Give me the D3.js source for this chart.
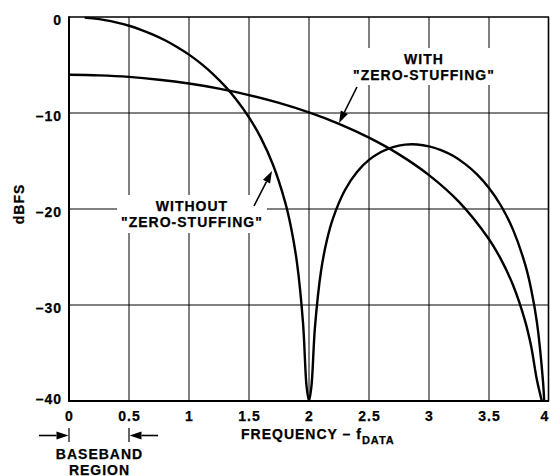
<!DOCTYPE html>
<html>
<head>
<meta charset="utf-8">
<script src="https://cdn.jsdelivr.net/npm/d3@7"></script>
<style>
  html, body { margin: 0; padding: 0; background: #fff; }
  svg { display: block; }
  text { font-family: "Liberation Sans", Arial, Helvetica, sans-serif; font-weight: bold; fill: #000; stroke: #000; stroke-width: 0.25px; }
</style>
</head>
<body>
<svg id="chart" width="550" height="476"></svg>
<script>
// ---- Data ----
const xTicks = [0, 0.5, 1, 1.5, 2, 2.5, 3, 3.5, 4];
const xTickLabels = ["0", "0.5", "1", "1.5", "2", "2.5", "3", "3.5", "4"];
const yTicks = [0, -10, -20, -30, -40];
const yTickLabels = ["0", "\u201310", "\u201320", "\u201330", "\u201340"];

// Response without zero-stuffing (dBFS vs frequency in f_DATA)
const withoutFreq = [0.13, 0.2, 0.3, 0.4, 0.5, 0.6, 0.7, 0.8, 0.9, 1.0, 1.1, 1.2, 1.3, 1.4, 1.5, 1.6, 1.7, 1.8, 1.85, 1.9, 1.95, 1.98, 2.0,
  2.02, 2.05, 2.1, 2.15, 2.2, 2.3, 2.4, 2.5, 2.6, 2.7, 2.8, 2.9, 3.0, 3.1, 3.2, 3.3, 3.4, 3.5, 3.6, 3.7, 3.8, 3.85, 3.9, 3.95, 3.96];
const withoutDb = [-0.06, -0.14, -0.32, -0.58, -0.91, -1.33, -1.83, -2.42, -3.12, -3.92, -4.86, -5.94, -7.2, -8.69, -10.45, -12.62, -15.39, -19.23, -21.9, -25.61, -31.83, -38.5, -40,
  -38.5, -32.26, -26.48, -23.21, -20.97, -18.02, -16.14, -14.89, -14.06, -13.55, -13.3, -13.28, -13.47, -13.86, -14.46, -15.3, -16.39, -17.81, -19.66, -22.15, -25.72, -28.27, -31.86, -37.96, -40];

// Response with zero-stuffing
const withFreq = [0, 0.25, 0.5, 0.75, 1.0, 1.25, 1.5, 1.75, 2.0, 2.25, 2.5, 2.75, 3.0, 3.25, 3.5, 3.6, 3.7, 3.8, 3.85, 3.9, 3.94];
const withDb = [-6.02, -6.08, -6.24, -6.53, -6.93, -7.46, -8.13, -8.95, -9.94, -11.13, -12.57, -14.31, -16.47, -19.26, -23.15, -25.25, -27.92, -31.63, -34.23, -37.85, -40];

// ---- Layout ----
const svg = d3.select("#chart");
const x = d3.scaleLinear().domain([0, 4]).range([69, 549]);
const y = d3.scaleLinear().domain([0, -40]).range([17, 401]);

// Grid
const g = svg.append("g");
g.selectAll("line.vg").data(xTicks.slice(1, -1)).enter().append("line")
  .attr("x1", d => x(d)).attr("x2", d => x(d))
  .attr("y1", y(0)).attr("y2", y(-40))
  .attr("stroke", "#000").attr("stroke-width", 1);
g.selectAll("line.hg").data(yTicks.slice(1, -1)).enter().append("line")
  .attr("x1", x(0)).attr("x2", x(4))
  .attr("y1", d => y(d)).attr("y2", d => y(d))
  .attr("stroke", "#000").attr("stroke-width", 1);

// Curves
const lineC = d3.line().x(d => x(d[0])).y(d => y(d[1])).curve(d3.curveCatmullRom.alpha(0.5));
const withoutPts = withoutFreq.map((f, i) => [f, withoutDb[i]]);
const withPts = withFreq.map((f, i) => [f, withDb[i]]);

svg.append("clipPath").attr("id", "clip").append("rect")
  .attr("x", x(0)).attr("y", y(0) - 2).attr("width", x(4) - x(0)).attr("height", y(-40) - y(0) + 2);

const curves = svg.append("g").attr("clip-path", "url(#clip)");
curves.append("path").attr("d", lineC(withoutPts))
  .attr("fill", "none").attr("stroke", "#000").attr("stroke-width", 2.4)
  .attr("stroke-linejoin", "miter").attr("stroke-miterlimit", 20);
curves.append("path").attr("d", lineC(withPts))
  .attr("fill", "none").attr("stroke", "#000").attr("stroke-width", 2.4);

// Label backgrounds (break the grid behind annotation text)
svg.append("rect").attr("x", 117).attr("y", 195).attr("width", 150).attr("height", 38).attr("fill", "#fff");
svg.append("rect").attr("x", 348).attr("y", 48).attr("width", 152).attr("height", 37).attr("fill", "#fff");

// Frame
svg.append("line").attr("x1", x(0)).attr("x2", x(4)).attr("y1", y(0)).attr("y2", y(0)).attr("stroke", "#000").attr("stroke-width", 1.6);
svg.append("line").attr("x1", x(4) - 0.5).attr("x2", x(4) - 0.5).attr("y1", y(0)).attr("y2", y(-40)).attr("stroke", "#000").attr("stroke-width", 1.6);
svg.append("line").attr("x1", x(0)).attr("x2", x(0)).attr("y1", y(0) - 0.8).attr("y2", y(-40) + 1).attr("stroke", "#000").attr("stroke-width", 2);
svg.append("line").attr("x1", x(0) - 1).attr("x2", x(4)).attr("y1", y(-40)).attr("y2", y(-40)).attr("stroke", "#000").attr("stroke-width", 2);

// Axis labels
const ls = "1px";
svg.selectAll("text.yt").data(yTicks).enter().append("text")
  .attr("x", 62).attr("y", d => d === -40 ? y(d) + 3 : y(d) + 8)
  .attr("text-anchor", "end").attr("font-size", 14).attr("letter-spacing", ls)
  .text((d, i) => yTickLabels[i]);

svg.selectAll("text.xt").data(xTicks).enter().append("text")
  .attr("x", d => d === 4 ? x(d) - 4 : x(d) + 0.5).attr("y", 421)
  .attr("text-anchor", "middle").attr("font-size", 14).attr("letter-spacing", ls)
  .text((d, i) => xTickLabels[i]);

// dBFS
svg.append("text").attr("transform", "translate(24,204) rotate(-90)")
  .attr("text-anchor", "middle").attr("font-size", 14).attr("letter-spacing", ls).text("dBFS");

// Frequency label
const ft = svg.append("text").attr("x", 241).attr("y", 439).attr("font-size", 14).attr("letter-spacing", ls);
ft.append("tspan").text("FREQUENCY \u2013 f");
ft.append("tspan").attr("font-size", 11).attr("dy", 5).text("DATA");

// Annotations
function label(lines, cx, y0, dy) {
  lines.forEach((t, i) => svg.append("text").attr("x", cx).attr("y", y0 + i * dy)
    .attr("text-anchor", "middle").attr("font-size", 14).attr("letter-spacing", ls).text(t));
}
label(["WITH", "\"ZERO-STUFFING\""], 424, 64, 16);
label(["WITHOUT", "\"ZERO-STUFFING\""], 192, 211, 16);

// Arrows
function arrow(x1, y1, x2, y2, len, hw) {
  const a = Math.atan2(y2 - y1, x2 - x1);
  const bx = x2 - len * Math.cos(a), by = y2 - len * Math.sin(a);
  svg.append("line").attr("x1", x1).attr("y1", y1).attr("x2", bx).attr("y2", by)
    .attr("stroke", "#000").attr("stroke-width", 1.6);
  const px = -Math.sin(a) * hw, py = Math.cos(a) * hw;
  svg.append("path").attr("d", `M${x2},${y2}L${bx + px},${by + py}L${bx - px},${by - py}Z`).attr("fill", "#000");
}
arrow(357, 87, 339, 123, 12, 4);
arrow(254, 206, 272, 171, 12, 4);

// Baseband region markers
const by0 = 435.5;
svg.append("line").attr("x1", x(0)).attr("x2", x(0)).attr("y1", 428).attr("y2", 442).attr("stroke", "#000").attr("stroke-width", 1.2);
svg.append("line").attr("x1", x(0.5)).attr("x2", x(0.5)).attr("y1", 428).attr("y2", 442).attr("stroke", "#000").attr("stroke-width", 1.2);
arrow(39, by0, x(0) - 0.5, by0, 12, 4);
arrow(158, by0, x(0.5) + 0.5, by0, 12, 4);
label(["BASEBAND", "REGION"], 99.5, 459, 15.5);
</script>
</body>
</html>
